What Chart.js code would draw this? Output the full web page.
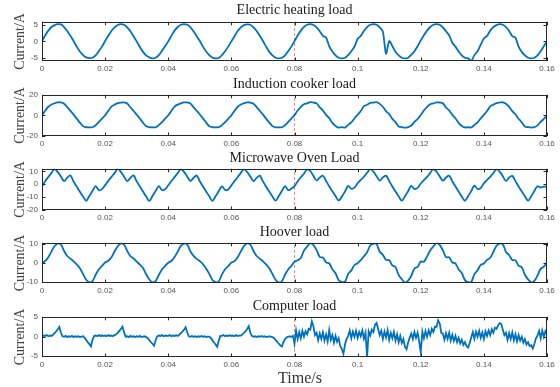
<!DOCTYPE html>
<html>
<head>
<meta charset="utf-8">
<script src="https://cdn.jsdelivr.net/npm/chart.js@4.4.1/dist/chart.umd.min.js"></script>
<style>
body { margin: 0; width: 560px; height: 387px; background: #fff; overflow: hidden; position: relative; }
canvas { position: absolute; left: 0; }
.ttl { position: absolute; left: 42px; width: 505px; text-align: center; font-family: 'Liberation Serif', serif; font-size: 14px; line-height: 14px; color: #1a1a1a; z-index: 2; }
#xlabel { position: absolute; left: 260px; width: 80px; text-align: center; top: 370px; font: 16px/16px 'Liberation Serif', serif; color: #333; z-index: 2; }
</style>
</head>
<body>
<div class="ttl" style="top:3px">Electric heating load</div>
<div class="ttl" style="top:77px">Induction cooker load</div>
<div class="ttl" style="top:151px">Microwave Oven Load</div>
<div class="ttl" style="top:225px">Hoover load</div>
<div class="ttl" style="top:299px">Computer load</div>
<div id="xlabel">Time/s</div>

<canvas id="c1" width="560" height="62"></canvas>
<canvas id="c2" width="560" height="64"></canvas>
<canvas id="c3" width="560" height="64"></canvas>
<canvas id="c4" width="560" height="63"></canvas>
<canvas id="c5" width="560" height="63"></canvas>

<script>
// x axis
var timeTicks = [0, 0.02, 0.04, 0.06, 0.08, 0.1, 0.12, 0.14, 0.16];
var timeTickLabels = ['0', '0.02', '0.04', '0.06', '0.08', '0.1', '0.12', '0.14', '0.16'];
var markerTime = 0.08;

// y ticks per panel
var heatingTicks = [-5, 0, 5];
var cookerTicks = [-20, 0, 20];
var microwaveTicks = [-20, -10, 0, 10];
var hooverTicks = [-10, 0, 10];
var computerTicks = [-5, 0, 5];

// current samples, 1 ms apart (panels 1-4), 0.5 ms apart (computer)
var heatingCurrent = [
  0.0,1.8,3.3,4.4,5.0,5.3,5.2,4.4,3.2,1.7,0.1,-1.6,-3.1,-4.2,-4.9,-5.1,-5.0,-4.3,-3.0,-1.6,
  0.1,1.7,3.2,4.3,5.0,5.3,5.1,4.3,3.1,1.6,0.0,-1.7,-3.2,-4.3,-4.9,-5.2,-5.0,-4.2,-2.9,-1.5,
  0.0,1.7,3.3,4.4,5.1,5.3,5.1,4.4,3.1,1.6,0.1,-1.6,-3.1,-4.2,-5.0,-5.2,-5.1,-4.2,-3.0,-1.6,
  0.0,1.6,3.2,4.3,5.0,5.2,5.1,4.3,3.2,1.7,0.1,-1.6,-3.2,-4.3,-5.0,-5.2,-5.0,-4.3,-3.0,-1.6,
  0.1,1.8,3.3,4.4,5.1,5.3,5.0,4.3,3.1,1.7,1.2,-1.5,-3.1,-4.3,-5.0,-5.2,-5.0,-4.2,-3.0,-1.6,
  0.8,1.7,3.2,4.4,5.1,5.3,5.1,4.3,3.0,-3.8,0.1,-1.4,-3.2,-4.3,-5.0,-5.2,-5.0,-4.1,-3.0,-1.5,
  0.3,1.9,3.3,4.4,5.1,5.3,5.1,4.3,3.1,1.9,-0.4,-1.6,-3.1,-4.3,-5.0,-5.2,-6.0,-4.2,-3.0,-1.0,
  0.9,1.7,3.3,4.4,5.0,5.3,5.1,4.4,3.2,1.6,1.2,-1.6,-3.2,-4.3,-5.0,-5.2,-5.0,-4.3,-3.0,-1.5,
  0.1
];
var cookerCurrent = [
  0.0,4.6,8.4,10.6,11.8,12.6,12.7,11.4,8.1,4.4,0.8,-3.1,-7.0,-10.4,-11.5,-11.7,-11.5,-9.6,-6.4,-3.1,
  0.2,4.5,8.5,10.4,11.9,12.5,12.6,11.5,7.9,4.5,0.7,-3.0,-7.1,-10.5,-11.4,-11.6,-11.6,-9.4,-6.5,-3.2,
  0.1,4.4,8.6,10.5,11.7,12.6,12.6,11.6,8.0,4.6,0.9,-2.9,-6.9,-10.6,-11.5,-11.6,-11.4,-9.5,-6.6,-3.3,
  0.0,4.5,8.4,10.6,11.8,12.7,12.5,11.4,8.1,4.5,0.8,-3.1,-7.0,-10.4,-11.6,-11.7,-11.5,-9.6,-6.4,-3.1,
  0.3,4.8,8.3,10.8,11.6,12.8,12.4,11.7,7.8,4.9,0.5,-2.7,-7.3,-10.2,-11.8,-11.4,-11.8,-9.2,-6.8,-2.9,
  0.6,4.2,8.9,10.3,12.1,12.4,12.8,11.2,8.4,4.1,1.2,-3.4,-6.6,-10.8,-11.3,-11.9,-11.3,-9.8,-6.2,-3.5,
  0.4,4.7,8.3,10.9,11.6,12.7,12.5,11.8,7.7,4.8,0.5,-2.8,-7.2,-10.3,-11.7,-11.5,-11.7,-9.3,-6.7,-2.9,
  0.5,4.3,8.8,10.4,12.0,12.5,12.7,11.3,8.3,4.2,1.1,-3.3,-6.7,-10.7,-11.4,-11.8,-11.4,-9.7,-6.3,-3.4,
  0.2
];
var microwaveCurrent = [
  -2.0,2.4,5.6,8.8,11.8,9.4,6.0,2.4,5.1,6.8,2.1,-1.8,-5.8,-9.5,-12.8,-9.1,-5.3,-1.4,-4.6,-3.8,
  -0.7,2.6,5.7,8.6,11.9,9.5,5.9,2.5,5.0,6.9,2.2,-1.7,-5.7,-9.6,-12.9,-9.2,-5.2,-1.5,-4.5,-3.9,
  -0.8,2.5,5.5,8.7,11.8,9.6,6.1,2.6,4.9,6.8,2.3,-1.8,-5.6,-9.4,-12.8,-9.3,-5.4,-1.6,-4.4,-4.0,
  -0.9,2.4,5.6,8.8,11.7,9.5,6.0,2.5,5.0,6.7,2.2,-1.9,-5.7,-9.5,-12.7,-9.2,-5.3,-1.4,-4.6,-3.4,
  -1.5,2.2,5.4,8.2,11.5,10.2,6.5,3.0,5.2,6.6,2.5,-1.5,-5.5,-9.2,-12.6,-9.6,-5.6,-1.3,-3.5,-2.6,
  0.8,3.4,5.8,8.9,11.7,9.8,6.2,2.9,5.3,6.7,2.4,-1.7,-5.6,-9.4,-12.7,-9.4,-5.4,-1.2,-3.6,-2.8,
  0.6,3.2,5.7,8.8,11.8,9.7,6.1,2.8,5.2,6.6,2.3,-1.8,-5.7,-9.5,-12.8,-9.3,-5.3,-1.1,-3.7,-2.9,
  0.7,3.3,5.8,8.7,11.7,9.8,6.2,2.7,5.3,6.5,2.4,-1.7,-5.6,-9.4,-12.7,-9.4,-5.2,-1.5,-2.5,-1.8,
  -2.0
];
var hooverCurrent = [
  0.0,1.0,3.0,6.0,8.8,10.1,9.6,6.2,3.6,2.2,0.8,-0.8,-2.8,-5.8,-8.8,-10.1,-9.6,-6.2,-3.4,-1.6,
  0.2,1.1,2.9,6.1,8.7,10.2,9.5,6.3,3.5,2.3,0.7,-0.9,-2.7,-5.9,-8.7,-10.2,-9.5,-6.3,-3.5,-1.5,
  0.1,1.0,3.1,5.9,8.9,10.1,9.7,6.1,3.7,2.1,0.9,-0.7,-2.9,-5.7,-8.9,-10.1,-9.7,-6.1,-3.3,-1.7,
  0.2,0.9,3.0,6.0,8.8,10.2,9.6,6.2,3.6,2.2,0.8,-0.8,-2.8,-5.8,-8.8,-10.2,-9.6,-6.2,-3.4,-1.6,
  0.6,1.4,2.6,6.4,8.5,10.3,9.3,6.7,3.1,2.8,0.3,-0.3,-3.3,-5.4,-9.1,-10.0,-9.8,-5.8,-3.9,-1.1,
  -0.2,1.5,3.5,5.6,9.1,10.0,9.9,5.8,4.2,1.6,1.4,-1.3,-2.2,-6.3,-8.5,-10.3,-9.3,-6.7,-2.9,-2.1,
  0.7,0.6,3.4,6.5,8.6,10.3,9.4,6.6,3.0,2.9,0.2,-0.2,-3.4,-5.3,-9.0,-10.1,-9.9,-5.9,-3.8,-1.0,
  -0.3,1.6,2.7,5.7,9.0,10.1,9.8,5.7,4.1,1.5,1.3,-1.4,-2.3,-6.2,-8.6,-10.2,-9.4,-6.6,-3.0,-2.0,
  0.4
];
var computerCurrent = [
  0.1,0.3,0.2,0.4,0.1,0.3,0.2,0.5,0.9,1.4,1.9,2.5,1.0,0.1,0.0,0.2,-0.1,0.1,0.0,0.2,
  -0.1,0.1,0.0,0.1,-0.1,0.0,0.1,-0.3,-0.8,-1.4,-1.9,-2.5,-0.8,0.2,0.3,0.1,0.4,0.2,0.3,0.2,
  0.3,0.1,0.4,0.2,0.3,0.1,0.4,0.6,1.0,1.5,2.0,2.6,1.1,0.0,0.1,-0.1,0.2,0.0,0.1,-0.1,
  0.1,0.0,0.2,-0.1,0.0,0.1,-0.1,-0.4,-0.9,-1.4,-1.8,-2.3,-0.9,0.1,0.3,0.2,0.4,0.1,0.3,0.2,
  0.2,0.4,0.1,0.3,0.2,0.4,0.2,0.5,0.9,1.3,1.8,2.4,1.2,0.1,0.0,0.2,0.0,0.1,-0.1,0.1,
  0.0,0.2,0.0,0.1,-0.1,0.0,0.0,-0.3,-0.9,-1.5,-2.0,-2.6,-1.0,0.2,0.2,0.4,0.1,0.3,0.2,0.4,
  0.2,0.3,0.1,0.4,0.2,0.3,0.3,0.6,1.0,1.4,2.0,2.7,1.0,0.2,0.0,0.1,-0.1,0.1,0.0,0.2,
  0.0,0.1,-0.1,0.0,0.1,0.0,-0.1,-0.3,-0.8,-1.3,-1.8,-2.2,-2.5,-1.4,-0.6,-0.2,0.0,0.1,0.0,0.2,
  -1.8,1.6,-0.6,1.2,-0.4,1.5,0.0,1.4,0.6,2.0,
  1.8,3.9,2.6,0.4,1.0,-0.9,0.8,-0.6,1.1,-1.0,
  0.6,-1.2,1.7,-0.8,0.4,-1.5,0.2,-1.3,-0.4,-2.4,
  -3.2,-4.4,-2.0,-0.6,0.2,1.6,-0.4,1.3,0.0,1.5,
  -0.3,1.2,0.1,1.6,-0.5,1.0,-5.2,1.4,0.3,1.8,
  1.2,3.0,3.5,2.0,0.4,1.5,-0.6,1.3,-0.2,1.7,
  -0.8,1.0,-0.4,1.2,-1.0,0.6,-1.4,0.2,-1.6,-0.6,
  -2.6,-3.2,-1.5,-0.2,0.8,-0.6,1.2,-0.3,1.0,-1.2,
  -4.0,1.3,-0.4,1.4,0.0,1.6,0.4,2.0,1.2,2.6,
  2.5,4.2,3.4,1.0,0.8,-0.8,0.9,-0.6,1.0,-1.0,
  0.5,-1.1,0.2,-1.4,-0.3,-1.7,-0.8,-2.1,-1.4,-2.4,
  -2.8,-1.6,-0.2,1.2,-0.5,1.3,0.0,1.5,-0.3,1.1,
  -0.6,1.4,0.2,1.6,0.4,1.9,1.0,2.3,2.0,2.9,
  3.5,3.3,1.8,0.4,1.0,-0.8,0.9,-0.6,1.1,-0.9,
  0.6,-1.2,0.4,-1.0,0.0,-1.5,-0.6,-2.0,-1.4,-2.4,
  -2.2,-3.0,-1.8,-0.4,0.3,1.5,-0.4,1.6,0.0,1.4,
  0.6
];

var panels = [
  { id: 'c1', top: 21, values: heatingCurrent, step: 0.001, yMin: -6, yMax: 6, yTicks: heatingTicks, tension: 0.25 },
  { id: 'c2', top: 94, values: cookerCurrent, step: 0.001, yMin: -20, yMax: 20, yTicks: cookerTicks, tension: 0.3 },
  { id: 'c3', top: 168, values: microwaveCurrent, step: 0.001, yMin: -20, yMax: 12, yTicks: microwaveTicks, tension: 0.35 },
  { id: 'c4', top: 242, values: hooverCurrent, step: 0.001, yMin: -10.5, yMax: 10.5, yTicks: hooverTicks, tension: 0.3 },
  { id: 'c5', top: 316, values: computerCurrent, step: 0.0005, yMin: -5.2, yMax: 5.1, yTicks: computerTicks, tension: 0 }
];

// box round the plot with inward ticks, like matlab
var framePlugin = {
  id: 'frame',
  afterDraw: function(chart) {
    var ctx = chart.ctx, a = chart.chartArea, x = chart.scales.x, y = chart.scales.y;
    ctx.save();
    ctx.strokeStyle = '#262626';
    ctx.lineWidth = 1;
    ctx.strokeRect(Math.round(a.left) + 0.5, Math.round(a.top) + 0.5, Math.round(a.right - a.left) - 1, Math.round(a.bottom - a.top) - 1);
    ctx.beginPath();
    x.ticks.forEach(function(t) {
      var px = Math.round(x.getPixelForValue(t.value)) + 0.5;
      ctx.moveTo(px, a.bottom); ctx.lineTo(px, a.bottom - 3.5);
      ctx.moveTo(px, a.top); ctx.lineTo(px, a.top + 3.5);
    });
    y.ticks.forEach(function(t) {
      var py = Math.round(y.getPixelForValue(t.value)) + 0.5;
      ctx.moveTo(a.left, py); ctx.lineTo(a.left + 3.5, py);
      ctx.moveTo(a.right, py); ctx.lineTo(a.right - 3.5, py);
    });
    ctx.stroke();
    ctx.restore();
  }
};

panels.forEach(function(p) {
  var canvas = document.getElementById(p.id);
  canvas.style.top = (p.top - 8) + 'px';

  var points = p.values.map(function(v, i) { return { x: i * p.step, y: v }; });

  new Chart(canvas, {
    type: 'line',
    data: {
      datasets: [{
        data: points,
        borderColor: '#0072BD',
        borderWidth: 1.8,
        pointRadius: 0,
        tension: p.tension
      }, {
        data: [{ x: markerTime, y: p.yMin }, { x: markerTime, y: p.yMax }],
        borderColor: 'rgba(225,90,90,0.7)',
        borderWidth: 1,
        borderDash: [3, 2],
        pointRadius: 0
      }]
    },
    options: {
      responsive: false,
      animation: false,
      events: [],
      layout: { padding: { top: 8, right: 13, bottom: 0, left: 0 } },
      plugins: { legend: { display: false }, tooltip: { enabled: false } },
      scales: {
        x: {
          type: 'linear',
          min: 0,
          max: 0.16,
          afterBuildTicks: function(s) { s.ticks = timeTicks.map(function(v) { return { value: v }; }); },
          afterFit: function(s) { s.height = 14; },
          grid: { display: false, drawTicks: false },
          border: { display: false },
          ticks: {
            padding: 3,
            maxRotation: 0,
            autoSkip: false,
            color: '#555',
            font: { family: 'Liberation Sans', size: 8 },
            callback: function(v, i) { return timeTickLabels[i]; }
          }
        },
        y: {
          min: p.yMin,
          max: p.yMax,
          afterBuildTicks: function(s) { s.ticks = p.yTicks.map(function(v) { return { value: v }; }); },
          afterFit: function(s) { s.width = 42; },
          grid: { display: false, drawTicks: false },
          border: { display: false },
          ticks: {
            padding: 4,
            autoSkip: false,
            color: '#555',
            font: { family: 'Liberation Sans', size: 8 }
          },
          title: {
            display: true,
            text: 'Current/A',
            color: '#444',
            padding: { top: 12, bottom: 0 },
            font: { family: 'Liberation Serif', size: 14 }
          }
        }
      }
    },
    plugins: [framePlugin]
  });
});
</script>
</body>
</html>
